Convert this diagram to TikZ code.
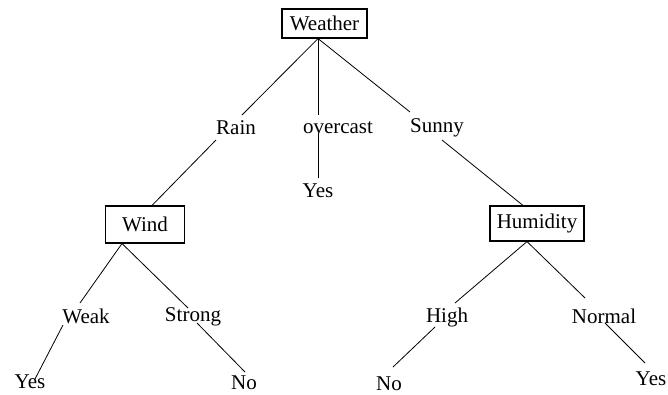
\documentclass[tikz,border=0pt]{standalone}
\usepackage{fontspec}
\setmainfont{Liberation Serif}
\begin{document}
\begin{tikzpicture}[x=1pt,y=-1pt,
  every node/.style={font=\fontsize{21}{25}\selectfont, inner sep=0pt},
  attr/.style={draw, line width=1.1pt, minimum height=29pt},
  lbl/.style={},
  edge/.style={line width=0.8pt}]
\useasboundingbox (0,0) rectangle (668,394);

% attribute boxes
\node[attr, minimum width=85pt, minimum height=29pt] (W) at (324.5,23.5) {Weather};
\node[attr, minimum width=79pt, minimum height=37pt] (Wi) at (145,224.5) {Wind};
\node[attr, minimum width=94pt, minimum height=35pt] (H) at (537,223.5) {Humidity};

% branch labels and leaves
\node[lbl] (rain) at (236,128) {Rain};
\node[lbl] (oc) at (338,128) {overcast};
\node[lbl] (sunny) at (437,128) {Sunny};
\node[lbl] (yes1) at (318,191) {Yes};
\node[lbl] (weak) at (86,316) {Weak};
\node[lbl] (strong) at (193,317) {Strong};
\node[lbl] (high) at (447,317) {High};
\node[lbl] (normal) at (604,316) {Normal};
\node[lbl] (yes2) at (30,382) {Yes};
\node[lbl] (no1) at (244,383) {No};
\node[lbl] (no2) at (389,384) {No};
\node[lbl] (yes3) at (651,379) {Yes};

\coordinate (wb) at ([xshift=-6.5pt]W.south);

% Weather splits
\draw[edge] (wb) -- ([shift={(6,-13)}]rain.center);
\draw[edge] (wb) -- ([shift={(-20,-13)}]oc.center);
\draw[edge] ([shift={(-20,5)}]oc.center) -- ([shift={(0,-13)}]yes1.center);
\draw[edge] (wb) -- ([shift={(-27,-16)}]sunny.center);

% Rain -> Wind, Sunny -> Humidity
\draw[edge] ([shift={(-20,12)}]rain.center) -- ([xshift=7pt]Wi.north);
\draw[edge] ([shift={(5,12)}]sunny.center) -- ([xshift=-14pt]H.north);

% Wind splits
\draw[edge] ([xshift=-23pt]Wi.south) -- ([shift={(-6,-13)}]weak.center);
\draw[edge] ([xshift=-23pt]Wi.south) -- ([shift={(-5,-9)}]strong.center);
\draw[edge] ([shift={(-23,9)}]weak.center) -- ([shift={(5,-3)}]yes2.center);
\draw[edge] ([shift={(4,6)}]strong.center) -- ([shift={(1,-11)}]no1.center);

% Humidity splits
\draw[edge] ([xshift=-10pt]H.south) -- ([shift={(8,-14)}]high.center);
\draw[edge] ([xshift=-10pt]H.south) -- ([shift={(-19,-18)}]normal.center);
\draw[edge] ([shift={(-12,10)}]high.center) -- ([shift={(4,-17)}]no2.center);
\draw[edge] ([shift={(1,7)}]normal.center) -- ([shift={(-6,-16)}]yes3.center);
\end{tikzpicture}
\end{document}
